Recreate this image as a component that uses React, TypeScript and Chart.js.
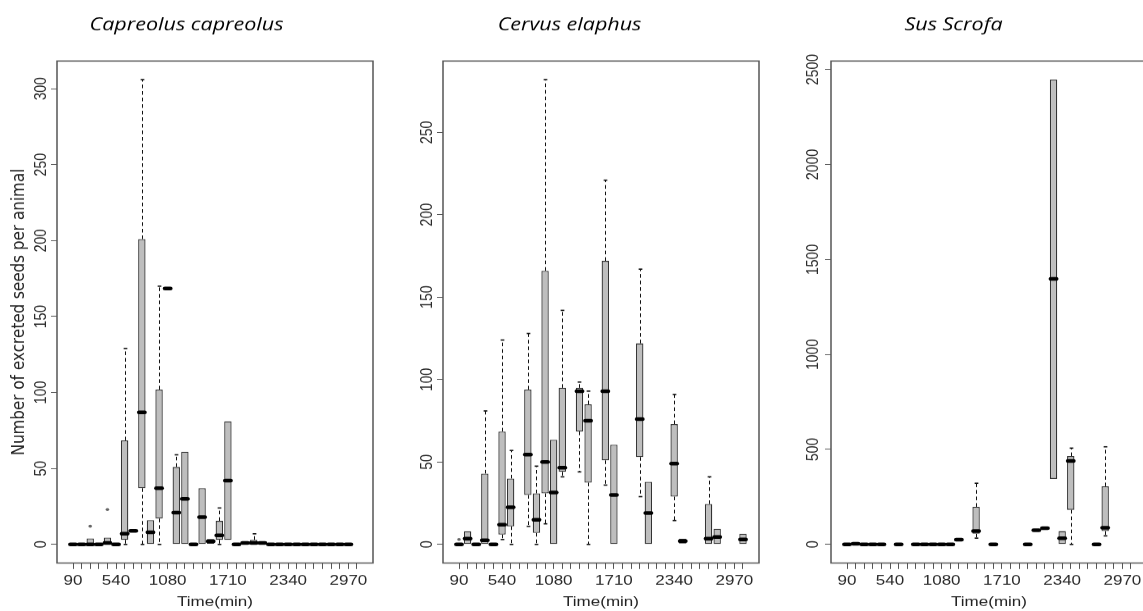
import React, { useEffect, useRef } from "react";
import { Chart, registerables } from "chart.js";

Chart.register(...registerables);

type Num = number | null;

// ---------- categories: time after feeding (min) ----------
const times = [90, 180, 270, 360, 450, 540, 630, 720, 810, 900, 990, 1080, 1170, 1260, 1350, 1440, 1530, 1620, 1710, 1800, 1890, 1980, 2070, 2160, 2250, 2340, 2430, 2520, 2610, 2700, 2790, 2880, 2970, 3060];
const shownTimeLabels = [90, 540, 1080, 1710, 2340, 2970];

// ---------- Capreolus capreolus ----------
const capLow: Num[] = [0, 0, 0, 0, 0, 0, 0, 9, 0, 0, 0, 168.5, 0, 0, 0, 0, 0.5, 0, 3, 0, 1, 0, 1, 0, 0, 0, 0, 0, 0, 0, 0, 0, 0, null];
const capQ1: Num[] = [0, 0, 0, 0, 0, 0, 3, 9, 37, 0, 17, 168.5, 0, 0, 0, 0, 0.5, 3, 3, 0, 1, 0, 1, 0, 0, 0, 0, 0, 0, 0, 0, 0, 0, null];
const capMed: Num[] = [0, 0, 0, 0, 1, 0, 7, 9, 87, 8, 37, 168.5, 21, 30, 0, 18, 2, 6, 42, 0, 1, 1, 1, 0, 0, 0, 0, 0, 0, 0, 0, 0, 0, null];
const capQ3: Num[] = [0, 0, 4, 0, 4.5, 0, 68.5, 9, 201, 16, 102, 168.5, 51, 61, 0, 37, 3.5, 15.5, 81, 0, 1, 3, 1, 0, 0, 0, 0, 0, 0, 0, 0, 0, 0, null];
const capHigh: Num[] = [0, 0, 4, 0, 4.5, 0, 129, 9, 306, 16, 170, 168.5, 59, 61, 0, 37, 3.5, 24, 81, 0, 1, 7, 1, 0, 0, 0, 0, 0, 0, 0, 0, 0, 0, null];
const capOutlierTimes = [270, 450];
const capOutlierValues = [12, 23];
const capYTicks = [0, 50, 100, 150, 200, 250, 300];

// ---------- Cervus elaphus ----------
const cerLow: Num[] = [0, 0, 0, 0, 0, 3, 0, null, 11, 0, 12.5, 0, 41, null, 44, 0, null, 36, 0, null, null, 29, 0, null, null, 14.5, 0.5, null, null, 0, 0, null, null, 0];
const cerQ1: Num[] = [0, 0, 0, 0, 0, 6, 11, null, 30, 7, 31, 0, 44, null, 68.5, 37.5, null, 51, 0, null, null, 53, 0, null, null, 29, 0.5, null, null, 0, 0, null, null, 0];
const cerMed: Num[] = [0, 3.5, 0, 2.5, 0, 12, 22.5, null, 54.5, 15, 50, 31.5, 46.5, null, 93, 75, null, 93, 30, null, null, 76, 19, null, null, 49, 2, null, null, 3.5, 4.5, null, null, 3];
const cerQ3: Num[] = [0, 8, 0, 43, 0, 68.5, 40, null, 94, 31, 166, 63.5, 95, null, 95, 85, null, 172, 60.5, null, null, 122, 38, null, null, 73, 3.5, null, null, 24.5, 9.5, null, null, 6.5];
const cerHigh: Num[] = [0, 8, 0, 81, 0, 124, 57, null, 128, 47.5, 282, 63.5, 142, null, 98.5, 93, null, 221, 60.5, null, null, 167, 38, null, null, 91, 3.5, null, null, 41, 9.5, null, null, 6.5];
const cerOutlierTimes = [90];
const cerOutlierValues = [3];
const cerYTicks = [0, 50, 100, 150, 200, 250];

// ---------- Sus scrofa ----------
const susLow: Num[] = [0, 0, 0, 0, 0, null, 0, null, 0, 0, 0, 0, 0, 25, null, 33, null, 0, null, null, null, 0, 75, 85, 345, 0, 0, null, null, 0, 45, null, null, null];
const susQ1: Num[] = [0, 0, 0, 0, 0, null, 0, null, 0, 0, 0, 0, 0, 25, null, 56, null, 0, null, null, null, 0, 75, 85, 345, 0, 182, null, null, 0, 70, null, null, null];
const susMed: Num[] = [0, 3, 0, 0, 0, null, 0, null, 0, 0, 0, 0, 0, 25, null, 70, null, 0, null, null, null, 0, 75, 85, 1398, 33, 440, null, null, 0, 88, null, null, null];
const susQ3: Num[] = [0, 8, 0, 0, 0, null, 0, null, 0, 0, 0, 6, 0, 25, null, 198, null, 0, null, null, null, 0, 75, 85, 2447, 70, 465, null, null, 0, 306, null, null, null];
const susHigh: Num[] = [0, 8, 0, 0, 0, null, 0, null, 0, 0, 0, 6, 0, 25, null, 322, null, 0, null, null, null, 0, 75, 85, 2447, 70, 507, null, null, 0, 514, null, null, null];
const susOutlierTimes: number[] = [];
const susOutlierValues: number[] = [];
const susYTicks = [0, 500, 1000, 1500, 2000, 2500];

interface PanelSpec {
  title: string;
  low: Num[];
  q1: Num[];
  med: Num[];
  q3: Num[];
  high: Num[];
  outlierTimes: number[];
  outlierValues: number[];
  yTicks: number[];
  yTitle: string;
}

const panels: PanelSpec[] = [
  { title: "Capreolus capreolus", low: capLow, q1: capQ1, med: capMed, q3: capQ3, high: capHigh, outlierTimes: capOutlierTimes, outlierValues: capOutlierValues, yTicks: capYTicks, yTitle: "Number of excreted seeds per animal" },
  { title: "Cervus elaphus", low: cerLow, q1: cerQ1, med: cerMed, q3: cerQ3, high: cerHigh, outlierTimes: cerOutlierTimes, outlierValues: cerOutlierValues, yTicks: cerYTicks, yTitle: "" },
  { title: "Sus Scrofa", low: susLow, q1: susQ1, med: susMed, q3: susQ3, high: susHigh, outlierTimes: susOutlierTimes, outlierValues: susOutlierValues, yTicks: susYTicks, yTitle: "" },
];

// ---------- layout (page pixels) ----------
const PAGE_W = 1143;
const PAGE_H = 611;
const CANVAS_H = 745; // drawn taller, shown squashed vertically like the source image
const K = CANVAS_H / PAGE_H;
const PLOT_TOP = 61;
const PLOT_BOTTOM = 563;
const TITLE_Y = 25;
const TITLE_SIZE = 21.5;
const frames = [
  { left: 0, width: 380, axisWidth: 57, padRight: 7, labelPad: -4.5 },
  { left: 380, width: 380, axisWidth: 63, padRight: 1, labelPad: -4 },
  { left: 760, width: 394, axisWidth: 71, padRight: 7, labelPad: -7.5 },
];
const BOX = 0.86;
const AXIS_FONT = '"Liberation Sans", Arial, sans-serif';

function makeBoxPlugin(p: PanelSpec) {
  return {
    id: "boxplotExtras",
    beforeDatasetsDraw(chart: any) {
      const { ctx } = chart;
      const xs = chart.scales.x;
      const ys = chart.scales.y;
      const unit = xs.getPixelForValue(2) - xs.getPixelForValue(1);
      const capHalf = unit * BOX * 0.25;
      ctx.save();
      ctx.strokeStyle = "#111";
      for (let i = 0; i < times.length; i++) {
        const lo = p.low[i], q1 = p.q1[i], q3 = p.q3[i], hi = p.high[i];
        if (lo == null || q1 == null || q3 == null || hi == null) continue;
        const x = Math.round(xs.getPixelForValue(i + 1)) + 0.5;
        const seg = (a: number, b: number) => {
          const ya = ys.getPixelForValue(a);
          const yb = ys.getPixelForValue(b);
          ctx.lineWidth = 1;
          ctx.setLineDash([4.5, 3.5]);
          ctx.beginPath();
          ctx.moveTo(x, ya);
          ctx.lineTo(x, yb);
          ctx.stroke();
          ctx.setLineDash([]);
          ctx.lineWidth = 1.6;
          ctx.beginPath();
          ctx.moveTo(x - capHalf, yb);
          ctx.lineTo(x + capHalf, yb);
          ctx.stroke();
        };
        if (hi > q3) seg(q3, hi);
        if (lo < q1) seg(q1, lo);
      }
      ctx.restore();
    },
    afterDatasetsDraw(chart: any) {
      const { ctx, chartArea } = chart;
      const xs = chart.scales.x;
      const ys = chart.scales.y;
      const unit = xs.getPixelForValue(2) - xs.getPixelForValue(1);
      const half = (unit * BOX) / 2;
      ctx.save();
      // medians
      ctx.strokeStyle = "#000";
      ctx.lineWidth = 4.5;
      ctx.lineCap = "round";
      for (let i = 0; i < times.length; i++) {
        const m = p.med[i];
        if (m == null) continue;
        const x = xs.getPixelForValue(i + 1);
        const y = ys.getPixelForValue(m);
        ctx.beginPath();
        ctx.moveTo(x - half + 1, y);
        ctx.lineTo(x + half - 1, y);
        ctx.stroke();
      }
      // outliers
      ctx.fillStyle = "#666";
      p.outlierTimes.forEach((t, j) => {
        const idx = times.indexOf(t) + 1;
        const x = xs.getPixelForValue(idx);
        const y = ys.getPixelForValue(p.outlierValues[j]);
        ctx.beginPath();
        ctx.arc(x, y, 1.8, 0, Math.PI * 2);
        ctx.fill();
      });
      // frame
      ctx.lineCap = "butt";
      ctx.strokeStyle = "#555";
      ctx.lineWidth = 1.5;
      ctx.strokeRect(chartArea.left, chartArea.top, chartArea.right - chartArea.left, chartArea.bottom - chartArea.top);
      ctx.restore();
    },
  };
}

function BoxPanel({ spec, frame }: { spec: PanelSpec; frame: (typeof frames)[number] }) {
  const ref = useRef<HTMLCanvasElement>(null);
  useEffect(() => {
    const canvas = ref.current;
    if (!canvas) return;
    const n = times.length;
    const vals = [...spec.high, ...spec.outlierValues].filter((v) => v != null) as number[];
    const top = Math.max(...vals);
    const titleLine = TITLE_SIZE * 1.2;
    const titleTop = TITLE_Y * K - titleLine / 2;
    const titleBottom = PLOT_TOP * K - titleTop - titleLine;
    const chart = new Chart(canvas, {
      type: "bar",
      data: {
        datasets: [
          {
            data: times.map((t, i) => ({
              x: i + 1,
              y: spec.q1[i] == null ? null : [spec.q1[i], spec.q3[i]],
            })) as any,
            backgroundColor: "#bebebe",
            borderColor: "#333",
            borderWidth: 1.3,
            borderSkipped: false,
            categoryPercentage: 1,
            barPercentage: BOX,
          },
        ],
      },
      options: {
        animation: false,
        responsive: false,
        devicePixelRatio: 1,
        events: [],
        layout: { padding: { left: 0, right: frame.padRight, top: 0, bottom: 0 } },
        plugins: {
          legend: { display: false },
          tooltip: { enabled: false },
          title: {
            display: true,
            text: spec.title,
            color: "#000",
            font: { family: '"Open Sans", sans-serif', size: TITLE_SIZE, style: "italic", weight: "normal" },
            padding: { top: titleTop, bottom: titleBottom },
          },
        },
        scales: {
          x: {
            type: "linear",
            min: 0.5 - 0.04 * n,
            max: n + 0.5 + 0.04 * n,
            offset: false,
            grid: { display: true, drawOnChartArea: false, drawTicks: true, tickLength: 6 * K, color: "#555", offset: false },
            border: { display: false },
            ticks: {
              autoSkip: false,
              maxRotation: 0,
              minRotation: 0,
              padding: 4,
              color: "#2a2a2a",
              font: { family: AXIS_FONT, size: 17 },
              callback: (v: any) => {
                const t = times[Math.round(Number(v)) - 1];
                return shownTimeLabels.includes(t) ? String(t) : "";
              },
            },
            title: {
              display: true,
              text: "Time(min)",
              color: "#222",
              font: { family: AXIS_FONT, size: 17 },
              padding: { top: 0, bottom: 0 },
            },
            afterBuildTicks: (s: any) => {
              s.ticks = times.map((_, i) => ({ value: i + 1 }));
            },
            afterFit: (s: any) => {
              s.height = CANVAS_H - PLOT_BOTTOM * K;
            },
          } as any,
          y: {
            type: "linear",
            min: -0.04 * top,
            max: 1.04 * top,
            grid: { display: true, drawOnChartArea: false, drawTicks: true, tickLength: 6, color: "#555" },
            border: { display: false },
            ticks: {
              minRotation: 90,
              maxRotation: 90,
              crossAlign: "center",
              padding: frame.labelPad,
              color: "#2a2a2a",
              font: { family: AXIS_FONT, size: 17 },
              callback: (v: any) => String(v),
            },
            title: {
              display: spec.yTitle !== "",
              text: spec.yTitle,
              color: "#222",
              font: { family: '"DejaVu Sans", sans-serif', size: 18.5 },
              padding: { top: 7.6, bottom: 0 },
            },
            afterBuildTicks: (s: any) => {
              s.ticks = spec.yTicks.map((v) => ({ value: v }));
            },
            afterFit: (s: any) => {
              s.width = frame.axisWidth;
            },
          } as any,
        },
      },
      plugins: [makeBoxPlugin(spec)],
    });
    return () => chart.destroy();
  }, [spec, frame]);

  return (
    <div style={{ position: "absolute", left: frame.left, top: 0, width: frame.width, height: PAGE_H }}>
      <canvas
        ref={ref}
        width={frame.width}
        height={CANVAS_H}
        style={{ display: "block", width: frame.width + "px", height: PAGE_H + "px" }}
      />
    </div>
  );
}

export default function App() {
  return (
    <div
      style={{
        position: "fixed",
        left: 0,
        top: 0,
        width: PAGE_W,
        height: PAGE_H,
        overflow: "hidden",
        background: "#fff",
      }}
    >
      {panels.map((p, i) => (
        <BoxPanel key={i} spec={p} frame={frames[i]} />
      ))}
    </div>
  );
}
